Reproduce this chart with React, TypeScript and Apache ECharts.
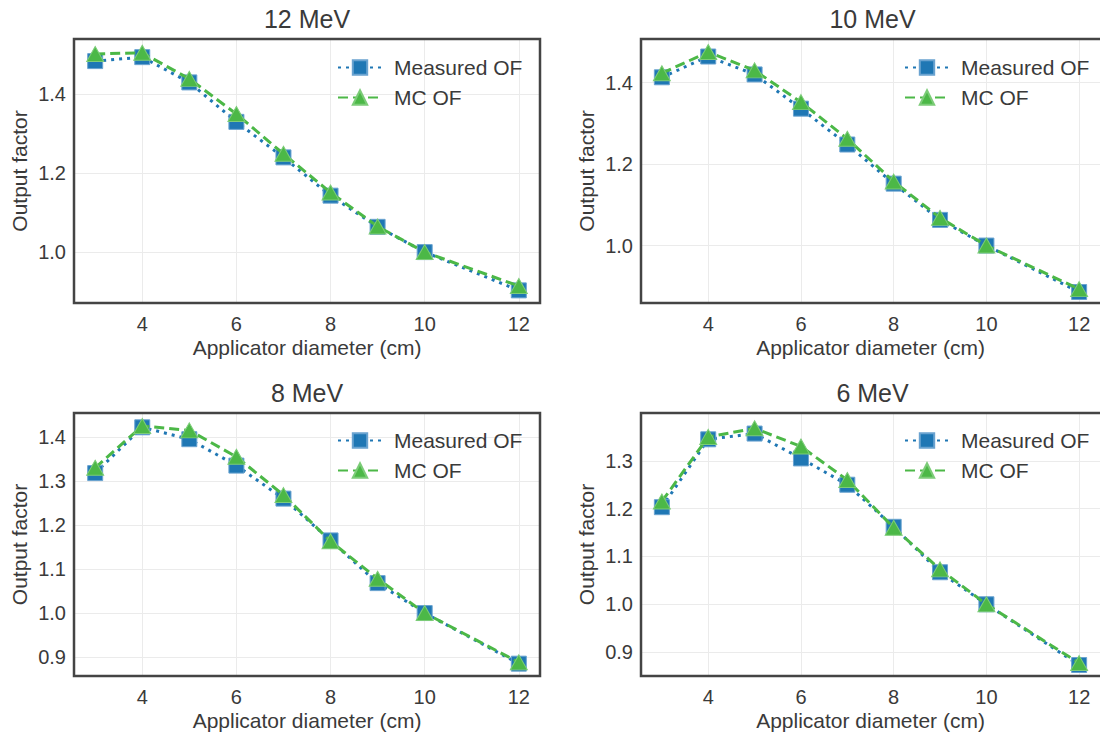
import React, { useEffect, useRef } from "react";
import * as echarts from "echarts";

const diameters = [3, 4, 5, 6, 7, 8, 9, 10, 12];
const panelTitles = ["12 MeV", "10 MeV", "8 MeV", "6 MeV"];
const measured12 = [1.484, 1.494, 1.43, 1.33, 1.24, 1.143, 1.064, 1.0, 0.903];
const mc12 = [1.502, 1.505, 1.439, 1.35, 1.249, 1.151, 1.065, 1.0, 0.914];
const measured10 = [1.413, 1.464, 1.42, 1.336, 1.248, 1.152, 1.063, 1.0, 0.886];
const mc10 = [1.423, 1.475, 1.43, 1.352, 1.262, 1.157, 1.068, 1.0, 0.893];
const measured8 = [1.318, 1.422, 1.395, 1.335, 1.26, 1.165, 1.068, 1.0, 0.885];
const mc8 = [1.33, 1.425, 1.415, 1.355, 1.268, 1.163, 1.078, 1.0, 0.888];
const measured6 = [1.203, 1.345, 1.357, 1.305, 1.25, 1.162, 1.067, 1.0, 0.873];
const mc6 = [1.215, 1.35, 1.368, 1.33, 1.26, 1.16, 1.073, 1.0, 0.877];
const yMins = [0.871, 0.859, 0.857, 0.85];
const yMaxs = [1.54, 1.507, 1.4545, 1.4];
const ySplits = [3, 3, 6, 5];
const xMin = 2.55;
const xMax = 12.45;
const seriesNames = ["Measured OF", "MC OF"];

const measuredAll = [measured12, measured10, measured8, measured6];
const mcAll = [mc12, mc10, mc8, mc6];

const BLUE = "#1f77b4";
const GREEN = "#4cb847";
const TEXT = "#3a3a3a";
const FONT = "Liberation Sans, Arial, sans-serif";
const FS = 21;
const TICK_FS = 20;

const grids = [
  { left: 74, top: 39, width: 466, height: 264 },
  { left: 641, top: 39, width: 463, height: 264 },
  { left: 74, top: 413, width: 466, height: 263 },
  { left: 641, top: 413, width: 463, height: 263 },
];

export default function App() {
  const ref = useRef<HTMLDivElement>(null);
  useEffect(() => {
    if (!ref.current) return;
    const chart = echarts.init(ref.current, null, { renderer: "svg" });
    const pair = (xs: number[], ys: number[]) => xs.map((x, i) => [x, ys[i]]);

    const titles = grids.map((g, i) => ({
      type: "text",
      x: g.left + g.width / 2,
      y: g.top - 20,
      z: 20,
      style: {
        text: panelTitles[i],
        fontSize: 25,
        fill: TEXT,
        fontFamily: FONT,
        textAlign: "center",
        textVerticalAlign: "middle",
      },
    }));
    const frames = grids.map((g) => ({
      type: "rect",
      z: 20,
      shape: { x: g.left, y: g.top, width: g.width, height: g.height },
      style: { fill: "none", stroke: "#444444", lineWidth: 2.5 },
      silent: true,
    }));

    const option: any = {
      animation: false,
      backgroundColor: "#ffffff",
      textStyle: { fontFamily: FONT, color: TEXT },
      grid: grids.map((g) => ({ ...g, show: false, containLabel: false })),
      xAxis: grids.map((_, i) => ({
        type: "value",
        gridIndex: i,
        min: xMin,
        max: xMax,
        splitNumber: 5,
        name: "Applicator diameter (cm)",
        nameLocation: "middle",
        nameGap: 34,
        nameTextStyle: { fontSize: FS, color: TEXT, fontFamily: FONT },
        axisLine: { show: false },
        axisTick: { show: false },
        axisLabel: {
          fontSize: TICK_FS,
          color: TEXT,
          fontFamily: FONT,
          margin: 11,
          showMinLabel: false,
          showMaxLabel: false,
          formatter: (v: number) => String(Math.round(v)),
        },
        splitLine: { show: true, lineStyle: { color: "#ebebeb", width: 1 } },
      })),
      yAxis: grids.map((_, i) => ({
        type: "value",
        gridIndex: i,
        min: yMins[i],
        max: yMaxs[i],
        splitNumber: ySplits[i],
        name: "Output factor",
        nameLocation: "middle",
        nameGap: 44,
        nameTextStyle: { fontSize: FS, color: TEXT, fontFamily: FONT },
        axisLine: { show: false },
        axisTick: { show: false },
        axisLabel: {
          fontSize: TICK_FS,
          color: TEXT,
          fontFamily: FONT,
          margin: 8,
          showMinLabel: false,
          showMaxLabel: false,
          formatter: (v: number) => v.toFixed(1),
        },
        splitLine: { show: true, lineStyle: { color: "#ebebeb", width: 1 } },
      })),
      legend: grids.map((g, i) => ({
        show: true,
        orient: "vertical",
        left: g.left + 258,
        top: g.top + (i < 2 ? 13 : 12),
        itemWidth: 44,
        itemHeight: 18,
        itemGap: 9,
        textStyle: { fontSize: FS, color: TEXT, fontFamily: FONT, lineHeight: 20, padding: [0, 0, 0, 7] },
        data: [{ name: seriesNames[0] }, { name: seriesNames[1] }],
        selectedMode: false,
      })),
      series: [] as any[],
      graphic: [...frames, ...titles],
    };

    grids.forEach((_, i) => {
      option.series.push({
        name: seriesNames[0],
        type: "line",
        xAxisIndex: i,
        yAxisIndex: i,
        data: pair(diameters, measuredAll[i]),
        symbol: "rect",
        symbolSize: 15,
        lineStyle: { color: BLUE, width: 3, type: [3, 5] },
        itemStyle: { color: BLUE, borderColor: "#6aa3d0", borderWidth: 1 },
        z: 2,
      });
      option.series.push({
        name: seriesNames[1],
        type: "line",
        xAxisIndex: i,
        yAxisIndex: i,
        data: pair(diameters, mcAll[i]),
        symbol: "triangle",
        symbolSize: [17, 15],
        lineStyle: { color: GREEN, width: 3, type: [10, 5] },
        itemStyle: { color: GREEN, borderColor: "#7ccc78", borderWidth: 1 },
        z: 3,
      });
    });

    chart.setOption(option);
    return () => chart.dispose();
  }, []);

  return (
    <div
      ref={ref}
      style={{ position: "fixed", left: 0, top: 0, width: 1100, height: 736 }}
    />
  );
}
